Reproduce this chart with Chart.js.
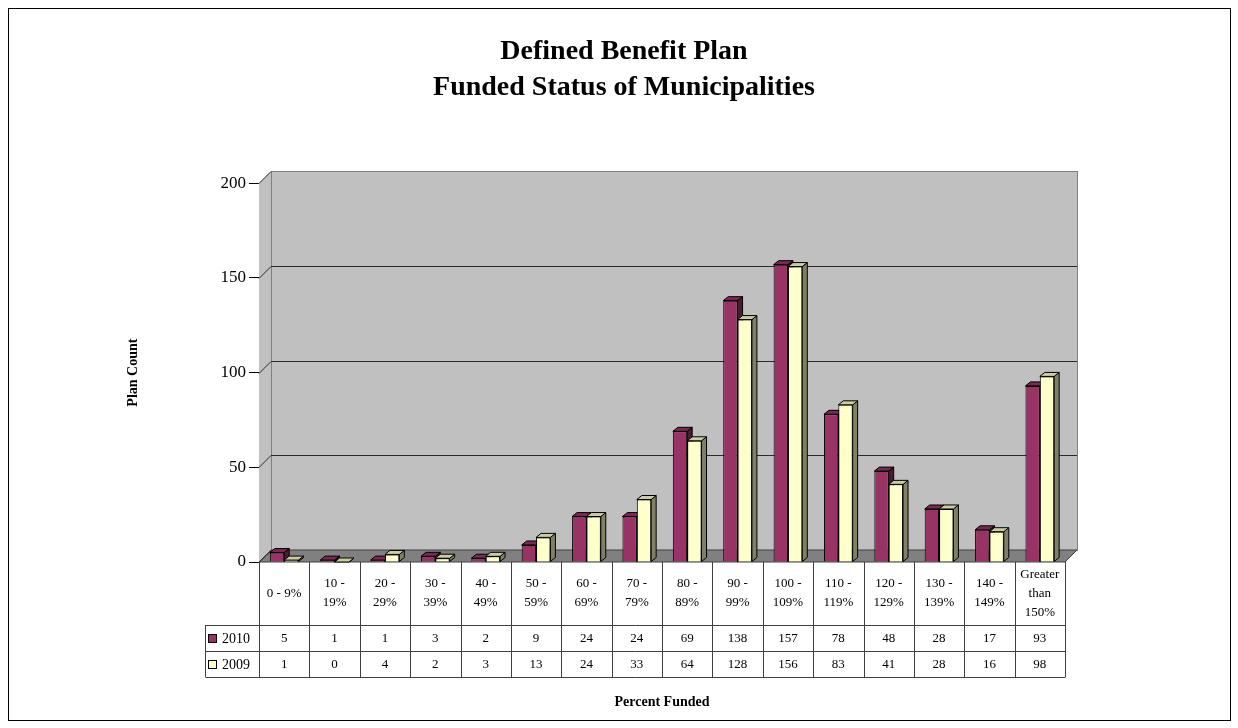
<!DOCTYPE html>
<html lang="en">
<head>
<meta charset="UTF-8">
<title>Defined Benefit Plan - Funded Status of Municipalities</title>
<script src="https://cdn.jsdelivr.net/npm/chart.js"></script>
<style>
  html, body { margin: 0; padding: 0; background: #fff; }
  #wrap { position: relative; width: 1238px; height: 728px; }
  #frame { position: absolute; left: 8px; top: 8px; width: 1221px; height: 711px; border: 1px solid #000; pointer-events: none; }
</style>
</head>
<body>
<div id="wrap">
  <canvas id="chart"></canvas>
  <div id="frame"></div>
</div>

<script>
const categories = [
  ['0 - 9%'], ['10 -', '19%'], ['20 -', '29%'], ['30 -', '39%'], ['40 -', '49%'],
  ['50 -', '59%'], ['60 -', '69%'], ['70 -', '79%'], ['80 -', '89%'], ['90 -', '99%'],
  ['100 -', '109%'], ['110 -', '119%'], ['120 -', '129%'], ['130 -', '139%'], ['140 -', '149%'],
  ['Greater', 'than', '150%']
];
const seriesNames = ['2010', '2009'];
const values2010 = [5, 1, 1, 3, 2, 9, 24, 24, 69, 138, 157, 78, 48, 28, 17, 93];
const values2009 = [1, 0, 4, 2, 3, 13, 24, 33, 64, 128, 156, 83, 41, 28, 16, 98];
const yTicks = [0, 50, 100, 150, 200];

const SERIF = '"Liberation Serif", "Times New Roman", serif';
const front = ['#993366', '#ffffcc'];
const side = ['#4d1a33', '#808066'];
const topFace = ['#7a2952', '#cccca3'];

// fake 3D depth of the plot box and of each bar
const DX = 12, DY = 12;
const BX = 5, BY = 4;

const boxPlugin = {
  id: 'box3d',
  beforeDatasetsDraw(chart) {
    const { ctx, chartArea: a, scales: { y } } = chart;
    ctx.save();
    ctx.lineWidth = 1;

    // side wall
    ctx.fillStyle = '#c0c0c0';
    ctx.beginPath();
    ctx.moveTo(a.left, a.top);
    ctx.lineTo(a.left + DX, a.top - DY);
    ctx.lineTo(a.left + DX, a.bottom - DY);
    ctx.lineTo(a.left, a.bottom);
    ctx.closePath();
    ctx.fill();

    // back wall
    ctx.fillRect(a.left + DX, a.top - DY, a.right - a.left, a.bottom - a.top);
    ctx.strokeStyle = '#808080';
    ctx.strokeRect(Math.round(a.left + DX) + 0.5, Math.round(a.top - DY) + 0.5,
      Math.round(a.right - a.left), Math.round(a.bottom - a.top));

    // floor
    ctx.fillStyle = '#808080';
    ctx.beginPath();
    ctx.moveTo(a.left, a.bottom);
    ctx.lineTo(a.left + DX, a.bottom - DY);
    ctx.lineTo(a.right + DX, a.bottom - DY);
    ctx.lineTo(a.right, a.bottom);
    ctx.closePath();
    ctx.fill();
    ctx.strokeStyle = '#404040';
    ctx.stroke();

    // gridlines on side and back wall
    ctx.strokeStyle = '#2a2a2a';
    yTicks.forEach(v => {
      const py = Math.round(y.getPixelForValue(v)) + 0.5;
      ctx.beginPath();
      ctx.moveTo(a.left, py);
      ctx.lineTo(a.left + DX, py - DY);
      if (v > yTicks[0] && v < yTicks[yTicks.length - 1]) ctx.lineTo(a.right + DX, py - DY);
      ctx.stroke();
    });

    // bar tops and sides (fronts are drawn by Chart.js on top)
    chart.data.datasets.forEach((ds, i) => {
      chart.getDatasetMeta(i).data.forEach(bar => {
        const l = bar.x - bar.width / 2, r = bar.x + bar.width / 2;
        ctx.strokeStyle = '#000';
        ctx.fillStyle = side[i];
        ctx.beginPath();
        ctx.moveTo(r, bar.y);
        ctx.lineTo(r + BX, bar.y - BY);
        ctx.lineTo(r + BX, bar.base - BY);
        ctx.lineTo(r, bar.base);
        ctx.closePath();
        ctx.fill(); ctx.stroke();
        ctx.fillStyle = topFace[i];
        ctx.beginPath();
        ctx.moveTo(l, bar.y);
        ctx.lineTo(l + BX, bar.y - BY);
        ctx.lineTo(r + BX, bar.y - BY);
        ctx.lineTo(r, bar.y);
        ctx.closePath();
        ctx.fill(); ctx.stroke();
      });
    });
    ctx.restore();
  },
  afterDraw(chart) {
    // data table under the plot
    const { ctx, chartArea: a, scales: { x } } = chart;
    const n = categories.length;
    const colW = (a.right - a.left) / n;
    const headTop = Math.round(a.bottom), headBot = headTop + 63;
    const rowH = 26;
    const legLeft = a.left - 54;
    const rows = [values2010, values2009];

    ctx.save();
    ctx.lineWidth = 1;
    ctx.strokeStyle = '#404040';
    ctx.beginPath();
    for (let k = 0; k <= n; k++) {
      const px = Math.round(a.left + k * colW) + 0.5;
      ctx.moveTo(px, headTop);
      ctx.lineTo(px, headBot + rowH * 2);
    }
    for (let r = 0; r <= 2; r++) {
      const py = headBot + r * rowH + 0.5;
      ctx.moveTo(Math.round(legLeft) + 0.5, py);
      ctx.lineTo(Math.round(a.right) + 0.5, py);
    }
    ctx.moveTo(Math.round(legLeft) + 0.5, headBot);
    ctx.lineTo(Math.round(legLeft) + 0.5, headBot + rowH * 2);
    ctx.stroke();

    ctx.fillStyle = '#000';
    ctx.font = '13px ' + SERIF;
    ctx.textAlign = 'center';
    ctx.textBaseline = 'middle';
    categories.forEach((lines, i) => {
      const cx = x.getPixelForValue(i);
      const lh = 19;
      const y0 = (headTop + headBot) / 2 - (lines.length - 1) * lh / 2;
      lines.forEach((t, j) => ctx.fillText(t, cx, y0 + j * lh));
      rows.forEach((vals, r) => ctx.fillText(String(vals[i]), cx, headBot + r * rowH + rowH / 2 + 1));
    });

    // legend keys in the table
    ctx.font = '14px ' + SERIF;
    seriesNames.forEach((name, r) => {
      const cy = headBot + r * rowH + rowH / 2;
      ctx.fillStyle = front[r];
      ctx.fillRect(legLeft + 3, cy - 4, 9, 9);
      ctx.strokeStyle = '#000';
      ctx.strokeRect(legLeft + 3.5, cy - 3.5, 8, 8);
      ctx.fillStyle = '#000';
      ctx.textAlign = 'left';
      ctx.fillText(name, legLeft + 17, cy + 1);
    });
    ctx.restore();
  }
};

new Chart(document.getElementById('chart'), {
  type: 'bar',
  data: {
    labels: categories,
    datasets: [
      { label: seriesNames[0], data: values2010, backgroundColor: front[0] },
      { label: seriesNames[1], data: values2009, backgroundColor: front[1] }
    ]
  },
  options: {
    responsive: true,
    maintainAspectRatio: false,
    animation: false,
    devicePixelRatio: 1,
    layout: { padding: { left: 125, right: 115, top: 0, bottom: 17 } },
    datasets: {
      bar: {
        borderColor: '#000',
        borderWidth: 1,
        categoryPercentage: 0.57,
        barPercentage: 1.0
      }
    },
    plugins: {
      legend: { display: false },
      tooltip: { enabled: false },
      title: {
        display: true,
        text: ['Defined Benefit Plan', 'Funded Status of Municipalities'],
        color: '#000',
        font: { family: SERIF, size: 28, weight: 'bold', lineHeight: 1.29 },
        padding: { top: 34, bottom: 77 }
      }
    },
    scales: {
      x: {
        ticks: { display: false },
        grid: { display: false },
        border: { display: false },
        title: {
          display: true,
          text: 'Percent Funded',
          color: '#000',
          font: { family: SERIF, size: 14, weight: 'bold' },
          padding: 0
        },
        afterFit(s) { s.height = 149; }
      },
      y: {
        min: 0,
        max: 200,
        ticks: {
          stepSize: 50,
          color: '#000',
          padding: 3,
          font: { family: SERIF, size: 17 }
        },
        grid: { drawOnChartArea: false, color: '#000', tickLength: 10 },
        border: { color: '#000' },
        title: {
          display: true,
          text: 'Plan Count',
          color: '#000',
          font: { family: SERIF, size: 14, weight: 'bold' },
          padding: 0
        },
        afterFit(s) { s.width = 134; }
      },
      // empty right-hand strip so the title centres like the original
      yRight: {
        position: 'right',
        ticks: { display: false },
        grid: { display: false },
        border: { display: false },
        afterFit(s) { s.width = 58; }
      }
    }
  },
  plugins: [boxPlugin]
});
</script>
</body>
</html>
